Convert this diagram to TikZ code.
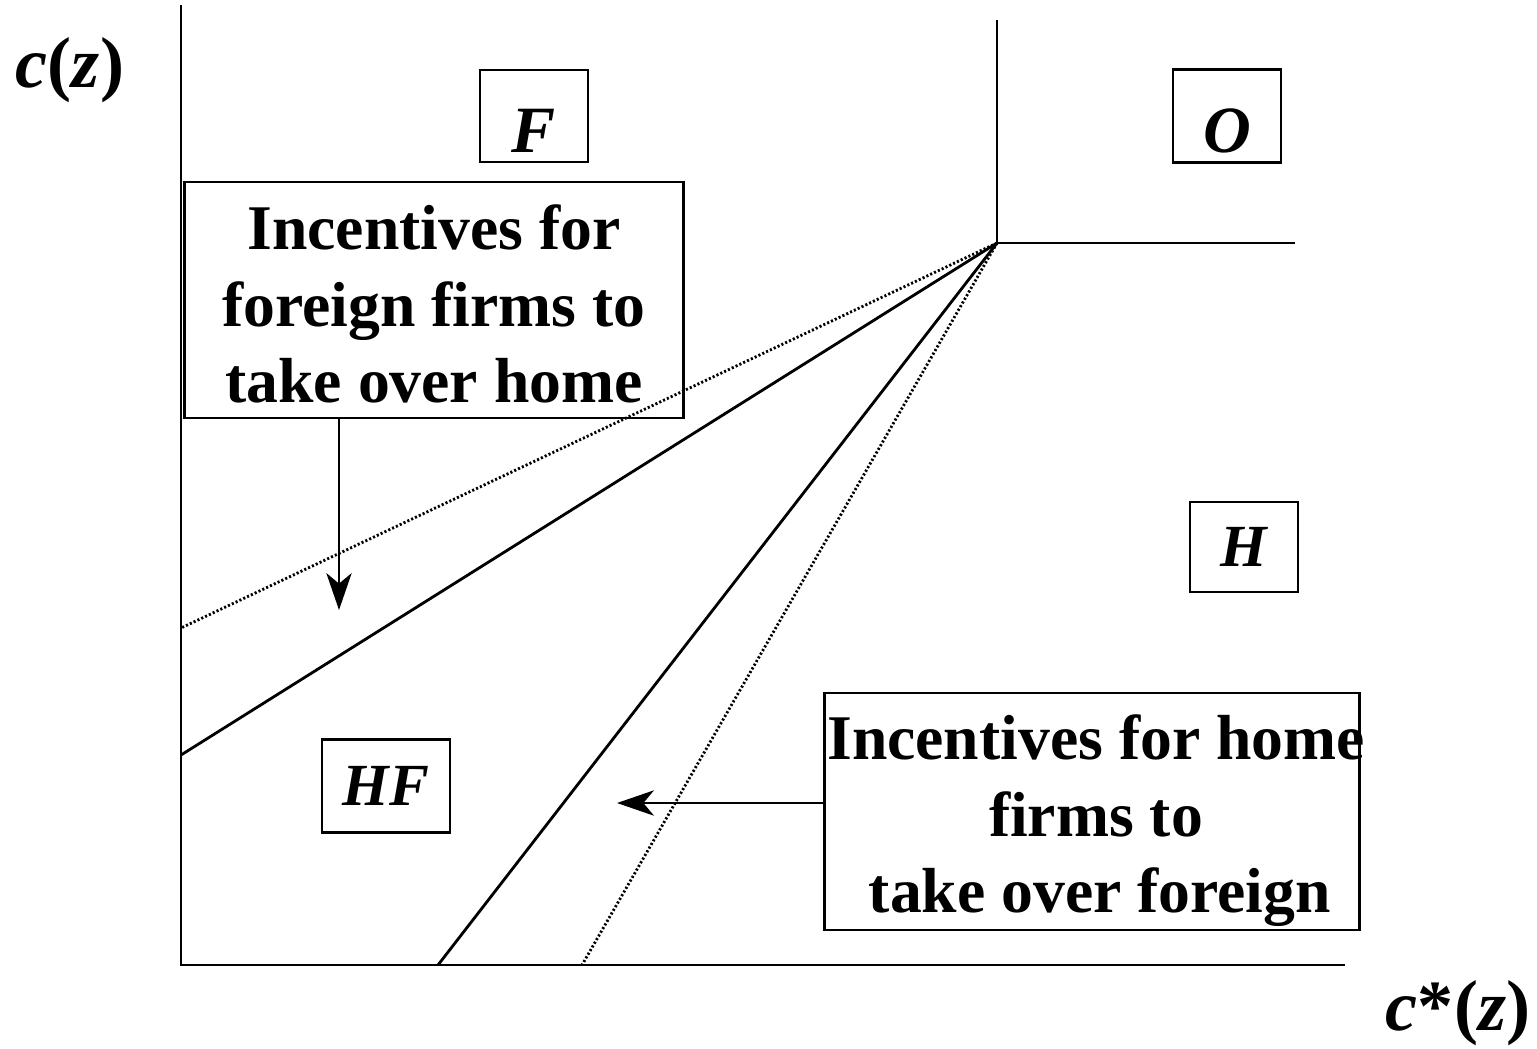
\documentclass[tikz,border=0pt]{standalone}
\usepackage{fontspec}
\setmainfont{Liberation Serif}
\usetikzlibrary{arrows.meta}
\begin{document}
\begin{tikzpicture}[x=0.01cm,y=-0.01cm,
  ln/.style={line width=0.8pt},
  dt/.style={line width=0.8pt, dash pattern=on 0.6pt off 0.6pt},
  arr/.style={line width=0.6pt, -{Stealth[length=10.5pt,width=7.2pt,inset=3pt]}},
  bigbox/.style={draw, line width=0.8pt, inner sep=0pt},
  bigtext/.style={font=\fontsize{18.1}{21.8}\selectfont\bfseries, align=center, inner sep=0pt, anchor=north},
  letterbox/.style={draw, line width=0.8pt, inner sep=0pt, font=\fontsize{17}{20}\selectfont\bfseries\itshape},
  axlabel/.style={inner sep=0pt, font=\fontsize{20.5}{24}\selectfont\bfseries},
]
\useasboundingbox (0,0) rectangle (1537,1048);

% key points
\coordinate (orig) at (181,965);
\coordinate (ytop) at (181,5);
\coordinate (xend) at (1345,965);
\coordinate (K) at (997,243);
\coordinate (Ktop) at (997,20);
\coordinate (Kright) at (1295,243);
\coordinate (a1) at (181,755);
\coordinate (a2) at (181,628);
\coordinate (b1) at (438,965);
\coordinate (b2) at (582,965);

% axes and boundaries
\draw[ln] (ytop) -- (orig) -- (xend);
\draw[ln] (Ktop) -- (K) -- (Kright);
\draw[ln] (K) -- (a1);
\draw[ln] (K) -- (b1);
\draw[dt] (K) -- (a2);
\draw[dt] (K) -- (b2);

% axis labels
\node[axlabel] (cz) at (70,70) {\textit{c}(\textit{z})};
\node[axlabel] (csz) at (1458,1013) {\textit{c}*(\textit{z})};

% region boxes
\node[letterbox, minimum width=1.08cm, minimum height=0.92cm, font=\fontsize{18.8}{22}\selectfont\bfseries\itshape, text height=0.72cm, text depth=0pt] (F) at (534,116) {F};
\node[letterbox, minimum width=1.08cm, minimum height=0.93cm, font=\fontsize{18.8}{22}\selectfont\bfseries\itshape, text height=0.72cm, text depth=0pt] (Obox) at (1227,116) {O};
\node[letterbox, minimum width=1.08cm, minimum height=0.90cm] (H) at (1244,547) {H};
\node[letterbox, minimum width=1.28cm, minimum height=0.93cm] (HF) at (386,786) {HF};

% text boxes
\node[bigbox, minimum width=4.98cm, minimum height=2.36cm] (lb) at (434,300) {};
\node[bigtext] (lbt) at (434,204) {Incentives for\\foreign firms to\\take over home};
\node[bigbox, minimum width=5.34cm, minimum height=2.37cm] (rb) at (1092,811.5) {};
\node[bigtext] (rbt) at (1096,714) {Incentives for home\\firms to\\\hspace*{0.12em}take over foreign};

% arrows
\coordinate (t1) at (339,610);
\coordinate (t2) at (617,803);
\draw[arr] (t1 |- lb.south) -- (t1);
\draw[arr] (t2 -| rb.west) -- (t2);
\end{tikzpicture}
\end{document}
